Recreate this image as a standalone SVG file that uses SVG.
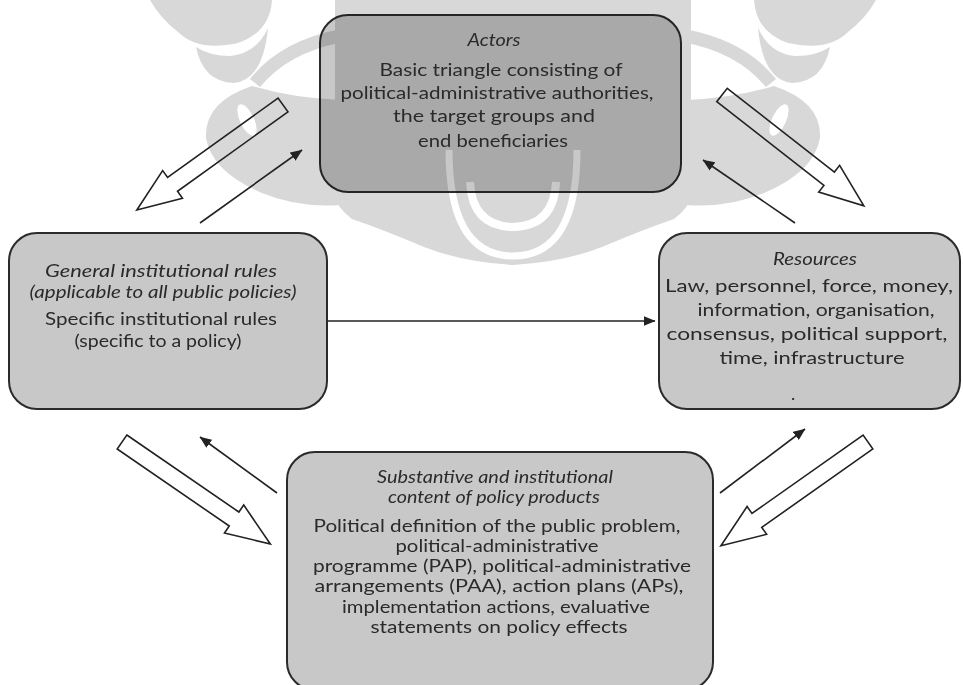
<svg xmlns="http://www.w3.org/2000/svg" xmlns:xlink="http://www.w3.org/1999/xlink" width="963" height="685" viewBox="0 0 963 685">
  <style>
    .wm { fill: #d8d8d8; }
    .gap { fill: none; stroke: #ffffff; }
    .box { fill: #c8c8c8; stroke: #2b2b2b; stroke-width: 2; }
    .dark { mix-blend-mode: multiply; }
    .t { font-family: Lato, "Liberation Sans", sans-serif; font-size: 18px; fill: #2a2a2a; text-anchor: middle; }
    .s { font-size: 17px; }
    .i { font-style: italic; }
    .conn { fill: none; stroke: #222222; stroke-width: 1.6; }
    .fat { fill: none; stroke: #222222; stroke-width: 1.6; stroke-linejoin: miter; }
  </style>
  <defs>
    <marker id="head" viewBox="0 0 12 10" refX="11.5" refY="5" markerWidth="12" markerHeight="10" markerUnits="userSpaceOnUse" orient="auto">
      <path d="M0,0 L12,5 L0,10 Z" fill="#222222"/>
    </marker>
    <!-- wide hollow arrow, tail at origin, pointing along +x -->
    <path id="fat-arrow" d="M0,-8.5 H136 V-17 L180,0 L136,17 V8.5 H0 Z"/>
    <!-- one half of the background emblem; the other half is its mirror -->
    <g id="wing">
      <path class="wm" d="M150,0 H272 Q270,32 238,43 Q198,52 178,32 Q160,18 150,0 Z"/>
      <path class="wm" d="M196,47 Q203,82 234,83 Q263,80 268,28 Q256,54 230,56 Q210,56 196,47 Z"/>
      <path d="M255,83 Q284,47 340,36" fill="none" stroke="#d8d8d8" stroke-width="13"/>
      <path class="wm" d="M252,86 Q292,98 340,100 L340,205 Q298,208 262,193 Q212,172 206,138 Q204,102 252,86 Z"/>
      <path class="wm" d="M335,0 H513 V265 Q462,262 424,247 Q384,230 352,219 Q336,207 335,195 Z"/>
      <ellipse cx="247" cy="120" rx="7" ry="17" transform="rotate(-25 247 120)" fill="#ffffff"/>
      <path class="gap" stroke-width="7" d="M449,150 Q449,256 513,256"/>
      <path class="gap" stroke-width="8" d="M470,182 Q472,226 513,227"/>
    </g>
  </defs>

  <rect width="963" height="685" fill="#ffffff"/>

  <g id="watermark">
    <use xlink:href="#wing"/>
    <use xlink:href="#wing" transform="translate(1026,0) scale(-1,1)"/>
  </g>

  <g id="connectors">
    <use xlink:href="#fat-arrow" class="fat" transform="translate(283,105) rotate(144.3)"/>
    <use xlink:href="#fat-arrow" class="fat" transform="translate(722,95) rotate(38)"/>
    <use xlink:href="#fat-arrow" class="fat" transform="translate(122,442) rotate(34.5)"/>
    <use xlink:href="#fat-arrow" class="fat" transform="translate(868,442) rotate(144.8)"/>
    <line class="conn" x1="200" y1="223" x2="302" y2="150" marker-end="url(#head)"/>
    <line class="conn" x1="795" y1="223" x2="703" y2="160" marker-end="url(#head)"/>
    <line class="conn" x1="277" y1="493" x2="200" y2="437" marker-end="url(#head)"/>
    <line class="conn" x1="720" y1="493" x2="805" y2="429" marker-end="url(#head)"/>
    <line class="conn" x1="327" y1="321" x2="655" y2="321" marker-end="url(#head)"/>
  </g>

  <g id="actors">
    <rect class="box dark" x="320" y="15" width="361" height="177" rx="28"/>
    <text class="t i" x="494" y="46" textLength="53" lengthAdjust="spacingAndGlyphs">Actors</text>
    <text class="t" x="501" y="76" textLength="243" lengthAdjust="spacingAndGlyphs">Basic triangle consisting of</text>
    <text class="t" x="497" y="99" textLength="313" lengthAdjust="spacingAndGlyphs">political-administrative authorities,</text>
    <text class="t" x="494" y="122" textLength="202" lengthAdjust="spacingAndGlyphs">the target groups and</text>
    <text class="t" x="493" y="147" textLength="150" lengthAdjust="spacingAndGlyphs">end beneficiaries</text>
  </g>

  <g id="institutional-rules">
    <rect class="box" x="9" y="233" width="318" height="176" rx="28"/>
    <text class="t i" x="161" y="277" textLength="232" lengthAdjust="spacingAndGlyphs">General institutional rules</text>
    <text class="t i" x="163" y="298" textLength="267" lengthAdjust="spacingAndGlyphs">(applicable to all public policies)</text>
    <text class="t" x="161" y="325" textLength="232" lengthAdjust="spacingAndGlyphs">Specific institutional rules</text>
    <text class="t" x="158" y="347" textLength="167" lengthAdjust="spacingAndGlyphs">(specific to a policy)</text>
  </g>

  <g id="resources">
    <rect class="box" x="659" y="233" width="301" height="176" rx="28"/>
    <text class="t i" x="815" y="265" textLength="84" lengthAdjust="spacingAndGlyphs">Resources</text>
    <text class="t" x="809" y="292" textLength="288" lengthAdjust="spacingAndGlyphs">Law, personnel, force, money,</text>
    <text class="t" x="816" y="316" textLength="237" lengthAdjust="spacingAndGlyphs">information, organisation,</text>
    <text class="t" x="807" y="340" textLength="281" lengthAdjust="spacingAndGlyphs">consensus, political support,</text>
    <text class="t" x="812" y="364" textLength="185" lengthAdjust="spacingAndGlyphs">time, infrastructure</text>
    <text class="t" x="793" y="400">.</text>
  </g>

  <g id="policy-products">
    <rect class="box" x="287" y="452" width="426" height="238" rx="28"/>
    <text class="t s i" x="495" y="483" textLength="236" lengthAdjust="spacingAndGlyphs">Substantive and institutional</text>
    <text class="t s i" x="494" y="503" textLength="212" lengthAdjust="spacingAndGlyphs">content of policy products</text>
    <text class="t s" x="497" y="532" textLength="367" lengthAdjust="spacingAndGlyphs">Political definition of the public problem,</text>
    <text class="t s" x="497" y="552" textLength="203" lengthAdjust="spacingAndGlyphs">political-administrative</text>
    <text class="t s" x="502" y="572" textLength="378" lengthAdjust="spacingAndGlyphs">programme (PAP), political-administrative</text>
    <text class="t s" x="499" y="592" textLength="369" lengthAdjust="spacingAndGlyphs">arrangements (PAA), action plans (APs),</text>
    <text class="t s" x="496" y="613" textLength="308" lengthAdjust="spacingAndGlyphs">implementation actions, evaluative</text>
    <text class="t s" x="499" y="633" textLength="257" lengthAdjust="spacingAndGlyphs">statements on policy effects</text>
  </g>
</svg>
